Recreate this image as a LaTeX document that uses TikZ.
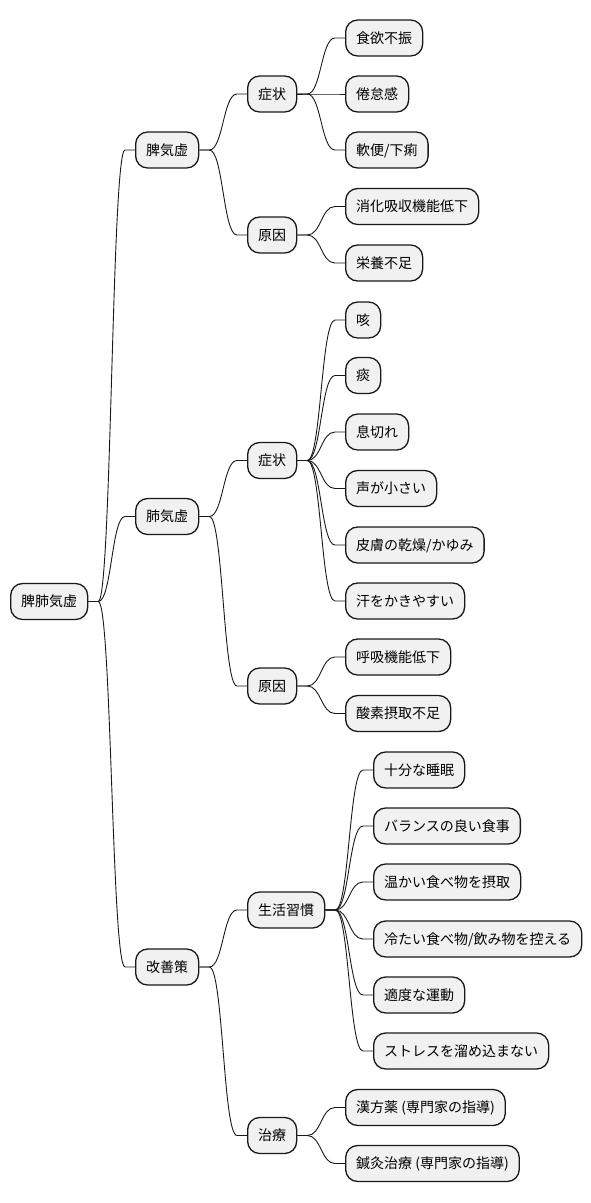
\documentclass[tikz,border=0pt]{standalone}
\usepackage{fontspec}
\setmainfont{Noto Sans CJK JP}
\usetikzlibrary{calc}
\tikzset{
  mm/.style={draw=black!90, fill=black!5.5, line width=1.3pt, rounded corners=12pt,
    minimum height=36pt, inner xsep=10.5pt, inner ysep=0pt, anchor=west,
    text height=12.3pt, text depth=1.7pt, font=\fontsize{14}{16}\selectfont},
  conn/.style={draw=black!90, line width=0.9pt}
}
\newcommand\mmlink[2]{%
  \path (#1.east) ++(10,0) coordinate (la);
  \path (#2.west) ++(-10,0) coordinate (lb);
  \coordinate (lm) at ($(la)!0.5!(lb)$);
  \draw[conn] (#1.east) -- (la) .. controls (lm |- la) and (lm |- lb) .. (lb) -- (#2.west);
}
\begin{document}
\begin{tikzpicture}[x=1pt,y=-1pt]
\useasboundingbox (0,0) rectangle (591,1203);
% root
\node[mm] (r) at (10,601.5) {脾肺気虚};
% level 1
\node[mm] (a) at (135,150) {脾気虚};
\node[mm] (b) at (135,516.5) {肺気虚};
\node[mm] (c) at (135,967) {改善策};
% level 2
\node[mm] (a1) at (247,94) {症状};
\node[mm] (a2) at (247,235) {原因};
\node[mm] (b1) at (247,460.5) {症状};
\node[mm] (b2) at (247,686) {原因};
\node[mm] (c1) at (247,910) {生活習慣};
\node[mm] (c2) at (247,1135.5) {治療};
% leaves
\node[mm] (a11) at (345,38) {食欲不振};
\node[mm] (a12) at (345,94) {倦怠感};
\node[mm] (a13) at (345,150) {軟便/下痢};
\node[mm] (a21) at (345,206.5) {消化吸収機能低下};
\node[mm] (a22) at (345,263) {栄養不足};
\node[mm] (b11) at (345,320) {咳};
\node[mm] (b12) at (345,375.5) {痰};
\node[mm] (b13) at (345,432) {息切れ};
\node[mm] (b14) at (345,488.5) {声が小さい};
\node[mm] (b15) at (345,545) {皮膚の乾燥/かゆみ};
\node[mm] (b16) at (345,601) {汗をかきやすい};
\node[mm] (b21) at (345,657) {呼吸機能低下};
\node[mm] (b22) at (345,713.5) {酸素摂取不足};
\node[mm] (c11) at (373,770) {十分な睡眠};
\node[mm] (c12) at (373,826) {バランスの良い食事};
\node[mm] (c13) at (373,882) {温かい食べ物を摂取};
\node[mm] (c14) at (373,939) {冷たい食べ物/飲み物を控える};
\node[mm] (c15) at (373,995) {適度な運動};
\node[mm] (c16) at (373,1051) {ストレスを溜め込まない};
\node[mm] (c21) at (345,1107.5) {漢方薬 (専門家の指導)};
\node[mm] (c22) at (345,1163.5) {鍼灸治療 (専門家の指導)};
% links
\mmlink{r}{a}\mmlink{r}{b}\mmlink{r}{c}
\mmlink{a}{a1}\mmlink{a}{a2}
\mmlink{b}{b1}\mmlink{b}{b2}
\mmlink{c}{c1}\mmlink{c}{c2}
\mmlink{a1}{a11}\mmlink{a1}{a12}\mmlink{a1}{a13}
\mmlink{a2}{a21}\mmlink{a2}{a22}
\mmlink{b1}{b11}\mmlink{b1}{b12}\mmlink{b1}{b13}\mmlink{b1}{b14}\mmlink{b1}{b15}\mmlink{b1}{b16}
\mmlink{b2}{b21}\mmlink{b2}{b22}
\mmlink{c1}{c11}\mmlink{c1}{c12}\mmlink{c1}{c13}\mmlink{c1}{c14}\mmlink{c1}{c15}\mmlink{c1}{c16}
\mmlink{c2}{c21}\mmlink{c2}{c22}
\end{tikzpicture}
\end{document}
